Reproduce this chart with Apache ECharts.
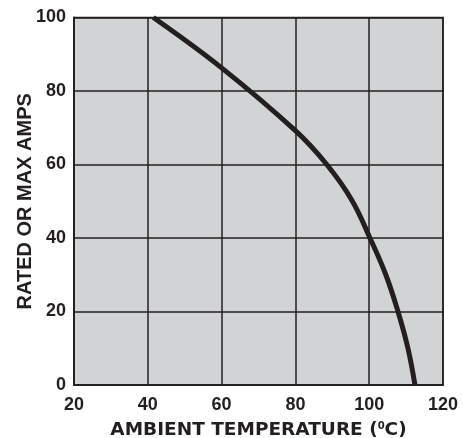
<!DOCTYPE html>
<html><head><meta charset="utf-8">
<script src="https://cdn.jsdelivr.net/npm/echarts@6/dist/echarts.min.js"></script>
<style>html,body{margin:0;padding:0;background:#fff}#c{width:463px;height:438px}</style>
</head><body><div id="c"></div>
<script>
const temps = [41.5, 60, 80, 88.5, 95.3, 100.2, 104.5, 107.8, 110.5, 112.4];
const amps  = [100, 86.3, 69.2, 60, 50.3, 40, 30, 20, 10, 0];
const xTicks = [20, 40, 60, 80, 100, 120];
const yTicks = [0, 20, 40, 60, 80, 100];

const chart = echarts.init(document.getElementById('c'));
const font = 'Liberation Sans, Arial, Helvetica, sans-serif';
const wide = 'DejaVu Sans, Liberation Sans, sans-serif';
chart.setOption({
  animation: false,
  grid: {left: 74, right: 20, top: 17.5, bottom: 53, show: true, containLabel: false, outerBoundsMode: 'none',
         backgroundColor: '#d1d3d4', borderColor: '#231f20', borderWidth: 1.5},
  xAxis: {type: 'value', min: xTicks[0], max: xTicks[xTicks.length-1], interval: 20,
    axisLine: {show: true, lineStyle: {color: '#231f20', width: 2}},
    axisTick: {show: false},
    splitLine: {show: true, lineStyle: {color: '#231f20', width: 1.5}},
    axisLabel: {color: '#231f20', fontSize: 18, fontWeight: 'bold', fontFamily: font, margin: 11},
    name: '{t|AMBIENT TEMPERATURE (}{s|0}{t|C)}', nameLocation: 'middle', nameGap: 36,
    nameTextStyle: {rich: {
      t: {fontSize: 18.5, fontWeight: 'bold', fontFamily: wide, color: '#231f20'},
      s: {fontSize: 10, fontWeight: 'bold', fontFamily: wide, color: '#231f20', verticalAlign: 'top', padding: [0,0,8,0]}
    }}
  },
  yAxis: {type: 'value', min: yTicks[0], max: yTicks[yTicks.length-1], interval: 20,
    axisLine: {show: true, lineStyle: {color: '#231f20', width: 2}},
    axisTick: {show: false},
    splitLine: {show: true, lineStyle: {color: '#231f20', width: 1.5}},
    axisLabel: {color: '#231f20', fontSize: 18, fontWeight: 'bold', fontFamily: font, margin: 8},
    name: 'RATED OR MAX AMPS', nameLocation: 'middle', nameGap: 39, nameMoveOverlap: false,
    nameTextStyle: {fontSize: 20, fontWeight: 'bold', fontFamily: font, color: '#231f20'}
  },
  series: [{
    type: 'line', data: temps.map((t, i) => [t, amps[i]]),
    smooth: 0.4, showSymbol: false,
    lineStyle: {color: '#231f20', width: 5}
  }]
});
</script></body></html>
